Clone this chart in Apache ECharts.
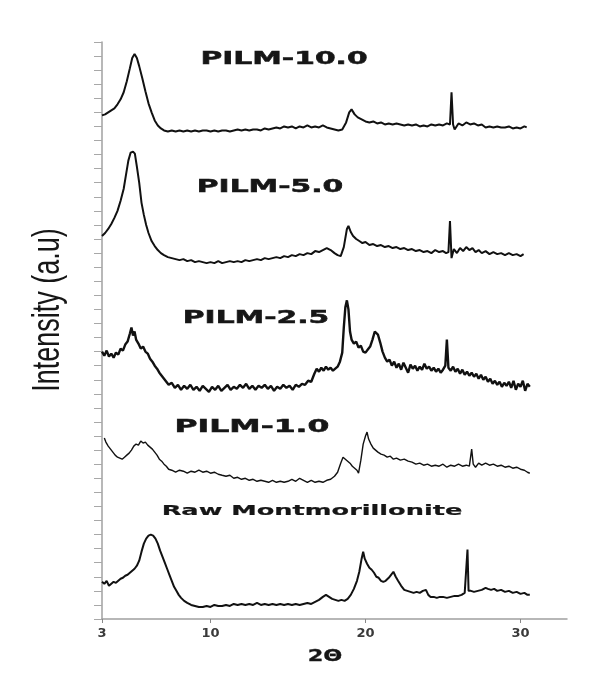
<!DOCTYPE html>
<html>
<head>
<meta charset="utf-8">
<script src="https://cdn.jsdelivr.net/npm/echarts@6/dist/echarts.min.js"></script>
<style>
  html, body { margin: 0; padding: 0; background: #fff; }
  #chart { width: 593px; height: 699px; }
</style>
</head>
<body>
<div id="chart"></div>
<script>
// x axis ticks (2θ, degrees)
const twoThetaTicks = [3, 10, 20, 30];

// sample names, top to bottom
const sampleNames = ['PILM-10.0', 'PILM-5.0', 'PILM-2.5', 'PILM-1.0', 'Raw Montmorillonite'];

// vertical stacking offset of each pattern (a.u.)
const offsets = [480, 350, 220, 130, 0];

// patterns: [2θ, intensity above own baseline]
const pilm100 = [
  [3.0,21],[3.2,22],[3.4,24],[3.6,26],[3.8,28],[4.0,32],[4.2,37],[4.4,44],[4.6,55],[4.8,68],[4.95,78],[5.1,82],[5.25,78],
  [5.4,70],[5.6,58],[5.8,45],[6.0,33],[6.2,24],[6.4,16],[6.6,11],[6.8,8],[7.0,6],[7.25,5],[7.5,6],[7.75,5],[8.0,6],
  [8.25,5],[8.5,6],[8.75,5],[9.0,6],[9.25,5],[9.5,6],[9.75,6],[10.0,5],[10.25,6],[10.5,5],[10.75,6],[11.0,6],[11.25,5],
  [11.5,6],[11.75,7],[12.0,6],[12.25,7],[12.5,6],[12.75,7],[13.0,7],[13.25,6],[13.5,8],[13.75,7],[14.0,8],[14.25,9],
  [14.5,8],[14.75,10],[15.0,9],[15.25,10],[15.5,8],[15.75,10],[16.0,9],[16.25,11],[16.5,9],[16.75,10],[17.0,9],[17.25,11],
  [17.5,9],[17.75,8],[18.0,7],[18.25,6],[18.5,7],[18.75,14],[18.95,24],[19.1,27],[19.3,22],[19.5,19],[19.75,17],[20.0,15],
  [20.25,14],[20.5,15],[20.75,13],[21.0,14],[21.25,12],[21.5,13],[21.75,12],[22.0,13],[22.25,12],[22.5,11],[22.75,12],
  [23.0,11],[23.25,12],[23.5,10],[23.75,11],[24.0,10],[24.25,12],[24.5,11],[24.75,12],[25.0,11],[25.25,13],[25.45,12],
  [25.55,44],[25.65,12],[25.75,7],[26.0,13],[26.25,11],[26.5,14],[26.75,12],[27.0,13],[27.25,11],[27.5,12],[27.75,9],
  [28.0,10],[28.25,9],[28.5,10],[28.75,9],[29.0,9],[29.25,10],[29.5,8],[29.75,9],[30.0,8],[30.25,10],[30.4,9]
];

const pilm50 = [
  [3.0,31],[3.2,34],[3.4,38],[3.6,43],[3.8,49],[4.0,56],[4.2,66],[4.4,78],[4.55,92],[4.7,106],[4.85,114],[5.0,115],
  [5.12,113],[5.25,100],[5.4,84],[5.55,64],[5.7,52],[5.85,42],[6.0,34],[6.2,26],[6.4,21],[6.6,17],[6.8,14],[7.0,12],
  [7.25,10],[7.5,9],[7.75,8],[8.0,7],[8.25,8],[8.5,6],[8.75,7],[9.0,5],[9.25,6],[9.5,5],[9.75,4],[10.0,5],[10.25,4],
  [10.5,6],[10.75,4],[11.0,5],[11.25,6],[11.5,5],[11.75,6],[12.0,5],[12.25,7],[12.5,6],[12.75,7],[13.0,8],[13.25,7],
  [13.5,9],[13.75,8],[14.0,9],[14.25,10],[14.5,9],[14.75,11],[15.0,10],[15.25,12],[15.5,11],[15.75,13],[16.0,12],
  [16.25,14],[16.5,13],[16.75,16],[17.0,15],[17.25,17],[17.5,19],[17.75,17],[18.0,14],[18.2,12],[18.4,11],[18.6,20],
  [18.8,38],[18.9,41],[19.05,35],[19.2,31],[19.4,28],[19.6,26],[19.8,24],[20.0,25],[20.25,22],[20.5,23],[20.75,21],
  [21.0,22],[21.25,20],[21.5,21],[21.75,19],[22.0,20],[22.25,18],[22.5,19],[22.75,17],[23.0,18],[23.25,16],[23.5,17],
  [23.75,15],[24.0,16],[24.25,14],[24.5,17],[24.75,15],[25.0,16],[25.2,14],[25.35,15],[25.45,46],[25.55,9],[25.7,18],
  [25.9,14],[26.1,19],[26.3,16],[26.5,20],[26.7,17],[26.9,19],[27.1,15],[27.3,17],[27.5,14],[27.75,16],[28.0,13],
  [28.25,15],[28.5,13],[28.75,14],[29.0,12],[29.25,14],[29.5,12],[29.75,13],[30.0,11],[30.2,13]
];

const pilm25 = [
  [3.0,46],[3.15,42],[3.3,47],[3.45,41],[3.6,44],[3.75,40],[3.9,45],[4.05,43],[4.2,49],[4.35,47],[4.5,53],[4.65,56],
  [4.8,64],[4.9,70],[5.0,62],[5.1,66],[5.2,58],[5.35,54],[5.5,49],[5.65,51],[5.8,46],[5.95,44],[6.1,39],[6.25,36],
  [6.4,32],[6.55,29],[6.7,25],[6.85,22],[7.0,19],[7.15,16],[7.3,13],[7.5,15],[7.7,10],[7.9,13],[8.1,8],[8.3,12],[8.5,9],
  [8.7,13],[8.9,8],[9.1,11],[9.3,7],[9.5,12],[9.7,9],[9.9,6],[10.1,11],[10.3,8],[10.5,12],[10.7,7],[10.9,10],[11.1,13],
  [11.3,8],[11.5,11],[11.7,9],[11.9,13],[12.1,10],[12.3,14],[12.5,9],[12.7,12],[12.9,8],[13.1,12],[13.3,10],[13.5,13],
  [13.7,9],[13.9,12],[14.1,7],[14.3,11],[14.5,9],[14.7,13],[14.9,10],[15.1,12],[15.3,8],[15.5,13],[15.7,11],[15.9,14],
  [16.1,13],[16.3,17],[16.5,16],[16.7,24],[16.85,29],[17.0,26],[17.15,30],[17.3,27],[17.45,31],[17.6,28],[17.75,30],
  [17.9,27],[18.05,29],[18.2,31],[18.35,36],[18.5,45],[18.6,70],[18.7,90],[18.8,97],[18.9,88],[19.0,66],[19.1,58],
  [19.25,54],[19.4,56],[19.55,50],[19.7,52],[19.85,46],[20.0,45],[20.15,48],[20.3,51],[20.45,58],[20.6,66],[20.7,67],
  [20.8,63],[20.95,55],[21.1,46],[21.25,40],[21.4,36],[21.55,38],[21.7,32],[21.85,36],[22.0,30],[22.15,34],[22.3,28],
  [22.45,35],[22.6,30],[22.75,25],[22.9,33],[23.05,29],[23.2,32],[23.35,27],[23.5,31],[23.65,28],[23.8,34],[23.95,29],
  [24.1,31],[24.25,27],[24.4,30],[24.55,26],[24.7,29],[24.85,25],[25.0,28],[25.15,32],[25.25,58],[25.35,30],[25.5,27],
  [25.65,31],[25.8,26],[25.95,29],[26.1,24],[26.25,28],[26.4,23],[26.55,26],[26.7,22],[26.85,25],[27.0,21],[27.15,24],
  [27.3,19],[27.45,23],[27.6,18],[27.75,21],[27.9,16],[28.05,19],[28.2,14],[28.35,17],[28.5,13],[28.65,16],[28.8,11],
  [28.95,15],[29.1,12],[29.25,16],[29.4,10],[29.55,17],[29.7,8],[29.85,14],[30.0,11],[30.15,17],[30.3,7],[30.45,14],
  [30.6,11]
];

const pilm10 = [
  [3.15,50],[3.25,46],[3.4,42],[3.55,39],[3.7,36],[3.85,33],[4.0,31],[4.15,30],[4.3,29],[4.45,31],[4.6,33],[4.75,35],
  [4.9,38],[5.05,42],[5.2,44],[5.35,43],[5.5,47],[5.65,45],[5.8,46],[5.95,43],[6.1,41],[6.25,39],[6.4,36],[6.55,33],
  [6.7,29],[6.85,27],[7.0,24],[7.15,22],[7.3,19],[7.5,18],[7.75,16],[8.0,18],[8.25,17],[8.5,15],[8.75,17],[9.0,16],
  [9.25,18],[9.5,16],[9.75,17],[10.0,15],[10.25,16],[10.5,14],[10.75,13],[11.0,12],[11.25,13],[11.5,10],[11.75,11],
  [12.0,9],[12.25,10],[12.5,8],[12.75,9],[13.0,7],[13.25,8],[13.5,7],[13.75,6],[14.0,8],[14.25,6],[14.5,7],[14.75,6],
  [15.0,7],[15.25,9],[15.5,7],[15.75,10],[16.0,8],[16.25,6],[16.5,8],[16.75,6],[17.0,7],[17.25,6],[17.5,8],[17.75,9],
  [18.0,12],[18.2,16],[18.4,25],[18.55,31],[18.7,29],[18.85,27],[19.0,25],[19.15,22],[19.3,20],[19.45,18],[19.55,15],
  [19.7,28],[19.85,44],[20.0,52],[20.1,56],[20.2,49],[20.35,44],[20.5,40],[20.65,38],[20.8,36],[21.0,34],[21.2,33],
  [21.4,31],[21.6,32],[21.8,29],[22.0,30],[22.25,28],[22.5,29],[22.75,27],[23.0,26],[23.25,24],[23.5,25],[23.75,23],
  [24.0,24],[24.25,22],[24.5,23],[24.75,22],[25.0,24],[25.25,21],[25.5,23],[25.75,22],[26.0,24],[26.25,22],[26.5,23],
  [26.7,22],[26.85,39],[26.95,24],[27.1,21],[27.3,25],[27.5,23],[27.75,25],[28.0,23],[28.25,24],[28.5,22],[28.75,23],
  [29.0,21],[29.25,22],[29.5,20],[29.75,21],[30.0,19],[30.25,18],[30.45,16],[30.6,15]
];

const rawMont = [
  [3.0,37],[3.15,35],[3.3,38],[3.45,33],[3.6,35],[3.75,37],[3.9,36],[4.05,38],[4.2,40],[4.35,41],[4.5,43],[4.65,44],
  [4.8,46],[4.95,48],[5.1,50],[5.25,53],[5.4,58],[5.55,67],[5.7,75],[5.85,80],[6.0,83],[6.15,84],[6.3,83],[6.45,80],
  [6.6,75],[6.75,68],[6.9,62],[7.05,56],[7.2,50],[7.35,44],[7.5,38],[7.65,32],[7.8,28],[7.95,24],[8.1,21],[8.3,18],
  [8.5,16],[8.75,14],[9.0,13],[9.25,12],[9.5,12],[9.75,13],[10.0,12],[10.25,14],[10.5,13],[10.75,13],[11.0,14],
  [11.25,13],[11.5,15],[11.75,14],[12.0,15],[12.25,14],[12.5,15],[12.75,14],[13.0,16],[13.25,14],[13.5,15],[13.75,14],
  [14.0,15],[14.25,14],[14.5,15],[14.75,14],[15.0,15],[15.25,14],[15.5,15],[15.75,14],[16.0,15],[16.25,16],[16.5,15],
  [16.75,17],[17.0,19],[17.25,22],[17.45,24],[17.65,22],[17.85,20],[18.05,19],[18.25,18],[18.45,19],[18.65,18],
  [18.85,20],[19.05,24],[19.25,30],[19.45,38],[19.6,47],[19.75,60],[19.85,67],[19.95,60],[20.1,55],[20.25,51],
  [20.4,49],[20.55,46],[20.7,42],[20.85,41],[21.0,38],[21.15,37],[21.3,38],[21.5,41],[21.65,44],[21.8,47],[21.95,42],
  [22.1,38],[22.3,33],[22.5,29],[22.7,28],[22.9,27],[23.1,26],[23.3,27],[23.5,26],[23.7,28],[23.9,29],[24.05,24],
  [24.2,22],[24.4,22],[24.6,21],[24.8,22],[25.0,22],[25.25,21],[25.5,22],[25.75,23],[26.0,23],[26.2,24],[26.4,26],
  [26.5,27],[26.58,69],[26.65,28],[26.8,28],[27.0,27],[27.25,28],[27.5,29],[27.75,31],[27.9,30],[28.1,29],[28.3,30],
  [28.5,28],[28.75,29],[29.0,27],[29.25,28],[29.5,26],[29.75,27],[30.0,25],[30.25,26],[30.45,24],[30.6,24]
];

const patterns = [pilm100, pilm50, pilm25, pilm10, rawMont];
const lineWidths = [2, 2, 2.4, 1.4, 2];

const chart = echarts.init(document.getElementById('chart'));

// label placement and look (pixel positions from the figure)
const labelPos = [
  { x: 284, y: 60, size: 17, sx: 1.75, w: 0.5 },
  { x: 270, y: 188, size: 17, sx: 1.75, w: 0.5 },
  { x: 256, y: 319, size: 17, sx: 1.75, w: 0.5 },
  { x: 252, y: 428, size: 17, sx: 1.85, w: 0.5 },
  { x: 312, y: 511, size: 14, sx: 1.83, w: 0.2 }
];

const series = patterns.map((pts, i) => ({
  name: sampleNames[i],
  type: 'line',
  data: pts.map(p => [p[0], p[1] + offsets[i]]),
  symbol: 'none',
  showSymbol: false,
  lineStyle: { color: '#111111', width: lineWidths[i] },
  emphasis: { disabled: true },
  z: 3
}));

const textEl = (txt, x, y, font, sx, w, extra) => Object.assign({
  type: 'text',
  x: x,
  y: y,
  scaleX: sx,
  style: {
    text: txt,
    font: font,
    fill: '#161616',
    stroke: w > 0 ? '#161616' : null,
    lineWidth: w,
    align: 'center',
    verticalAlign: 'middle',
    textAlign: 'center',
    textVerticalAlign: 'middle'
  },
  z: 10
}, extra || {});

const graphics = sampleNames.map((n, i) =>
  textEl(n, labelPos[i].x, labelPos[i].y, 'bold ' + labelPos[i].size + 'px "DejaVu Sans"', labelPos[i].sx, labelPos[i].w)
);
// axis titles
graphics.push(textEl('2Θ', 325, 657, 'bold 16px "DejaVu Sans"', 1.4, 0.3));
graphics.push(textEl('Intensity (a.u)', 49, 310, '38px "Liberation Sans", Arial', 0.71, 0, { rotation: Math.PI / 2 }));

const option = {
  animation: false,
  backgroundColor: '#ffffff',
  grid: { left: 102, right: 26, top: 42, bottom: 80, containLabel: false, outerBoundsMode: 'none' },
  xAxis: {
    type: 'value',
    min: 3,
    max: 33,
    axisLine: { show: true, lineStyle: { color: '#a0a0a0', width: 1.5 } },
    axisTick: { show: true, length: 4, customValues: twoThetaTicks, lineStyle: { color: '#888' } },
    axisLabel: {
      show: true,
      customValues: twoThetaTicks,
      margin: 8,
      color: '#3a3a3a',
      fontFamily: 'DejaVu Sans',
      fontWeight: 'bold',
      fontSize: 13
    },
    splitLine: { show: false }
  },
  yAxis: {
    type: 'value',
    min: 0,
    max: 574,
    interval: 14,
    axisLine: { show: true, lineStyle: { color: '#a0a0a0', width: 1.5 } },
    axisTick: { show: true, inside: false, length: 8, lineStyle: { color: '#a8a8a8' } },
    axisLabel: { show: false },
    splitLine: { show: false }
  },
  graphic: graphics,
  series: series
};

chart.setOption(option);
</script>
</body>
</html>
